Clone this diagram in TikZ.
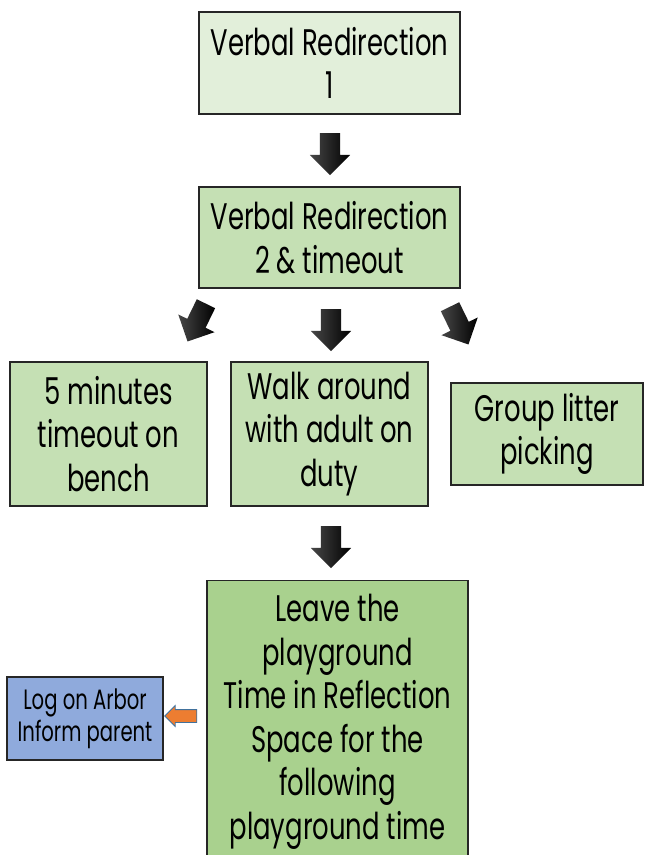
\documentclass[tikz,border=0pt]{standalone}
\usepackage{fontspec}
\setmainfont{Poppins}[FakeStretch=0.70]
\usetikzlibrary{shapes.arrows}

\definecolor{palegreen}{HTML}{E2EFDA}
\definecolor{midgreen}{HTML}{C5E0B4}
\definecolor{deepgreen}{HTML}{A9D18E}
\definecolor{softblue}{HTML}{8FAADC}
\definecolor{tangerine}{HTML}{ED7D31}
\definecolor{edgegray}{HTML}{262626}
\definecolor{steel}{HTML}{41719C}

\tikzset{
  box/.style={draw=edgegray, line width=1.2pt, inner sep=0pt, align=center,
    font=\fontsize{37}{43.5}\selectfont},
  blockarrow/.style={single arrow, single arrow head extend=10pt,
    single arrow head indent=0pt, minimum height=42pt,
    inner xsep=0pt, inner ysep=10pt, draw=none,
    left color=black!72, right color=black},
}

\begin{document}
\begin{tikzpicture}[x=1pt,y=-1pt]
  \clip (0,0) rectangle (645,855);
  \fill[white] (0,0) rectangle (645,855);

  % first stage
  \node[box, fill=palegreen, minimum width=261pt, minimum height=102pt]
    (vr1) at (329.5,63) {Verbal Redirection\\1};
  \node[blockarrow, rotate=-90] (a1) at (330,149) {};

  % second stage
  \node[box, fill=midgreen, minimum width=261pt, minimum height=101pt]
    (vr2) at (329.5,237.5) {Verbal Redirection\\2 \& timeout};

  \node[blockarrow, rotate=244] (aleft) at (199,318) {};
  \node[blockarrow, rotate=-90] (amid) at (331,325) {};
  \node[blockarrow, rotate=296] (aright) at (457,321) {};

  % options
  \node[box, fill=midgreen, minimum width=197pt, minimum height=144pt]
    (bench) at (108.5,434) {5 minutes\\timeout on\\bench};
  \node[box, fill=midgreen, minimum width=197pt, minimum height=144pt]
    (walk) at (329.5,434) {Walk around\\with adult on\\duty};
  \node[box, fill=midgreen, minimum width=192pt, minimum height=102pt]
    (litter) at (547,434) {Group litter\\picking};

  \node[blockarrow, rotate=-90] (a2) at (331,542) {};

  % final stage, running off the page
  \node[box, fill=deepgreen, minimum width=261pt, minimum height=300pt,
    anchor=north] (leave) at (337.5,580) {};
  \node[align=center, font=\fontsize{37}{43.5}\selectfont, inner sep=0pt,
    anchor=north] (leavetext) at (337.5,594)
    {Leave the\\playground\\Time in Reflection\\Space for the\\following\\playground time};

  \node[single arrow, single arrow head extend=4pt, single arrow head indent=0pt,
    minimum height=32pt, inner xsep=0pt, inner ysep=6pt, fill=tangerine,
    draw=steel, line width=0.8pt, rotate=180] (aorange) at (184,716) {};

  \node[box, fill=softblue, minimum width=156pt, minimum height=83pt,
    font=\fontsize{28}{32}\selectfont] (arbor) at (85,718.5)
    {Log on Arbor\\Inform parent};
\end{tikzpicture}
\end{document}
